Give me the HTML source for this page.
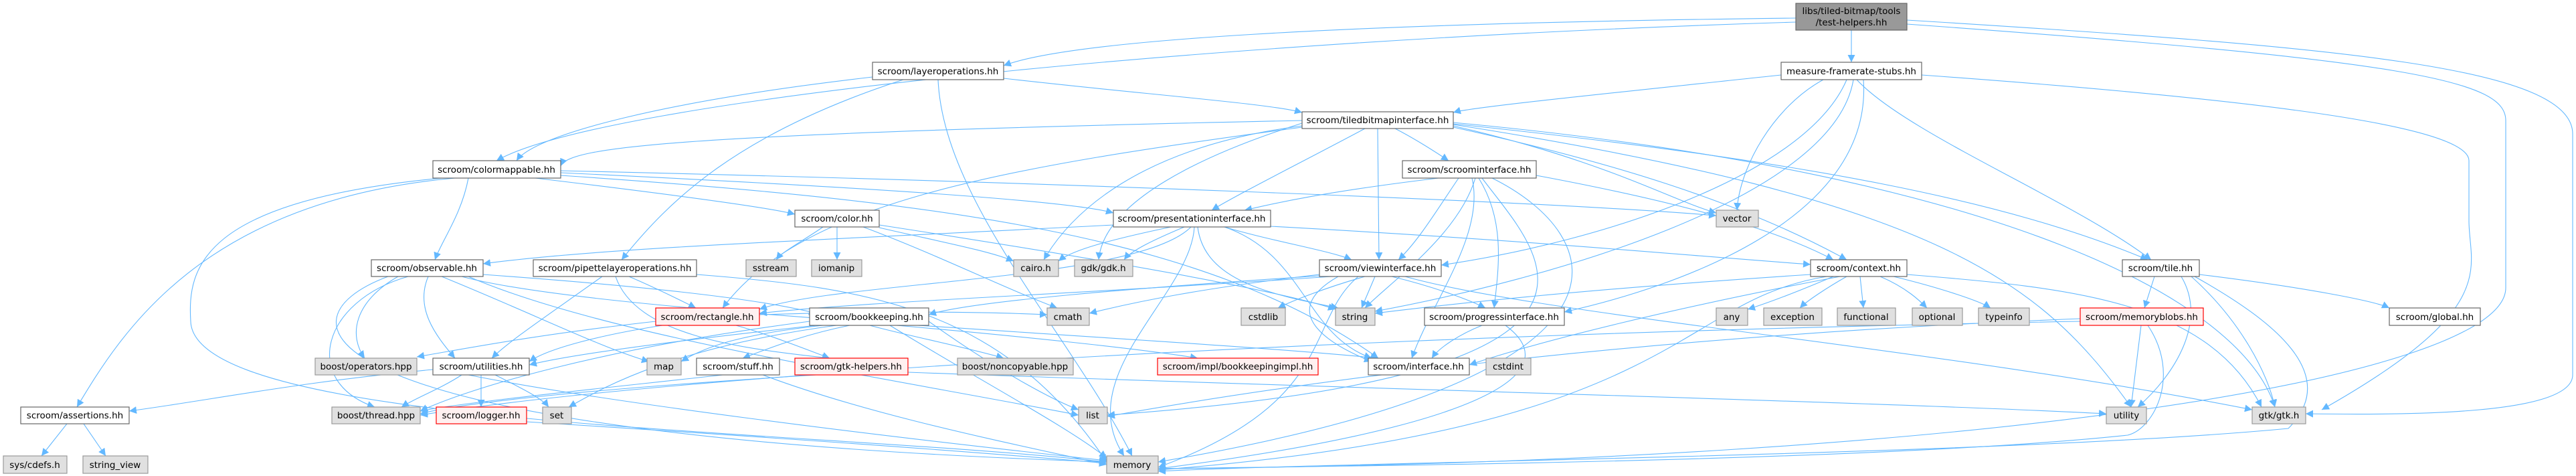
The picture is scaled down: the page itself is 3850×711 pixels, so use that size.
<!DOCTYPE html>
<html><head><meta charset="utf-8"><style>
html,body{margin:0;padding:0;background:#fff;}
svg{display:block;}
text{font-family:"DejaVu Sans","Liberation Sans",sans-serif;font-size:13.5px;fill:#000;}
.e{fill:none;stroke:#63b8ff;stroke-width:1.1;}
.n{fill:#fff;stroke:#666;stroke-width:1.2;}
.g{fill:#e0e0e0;stroke:#999;stroke-width:1.2;}
.r{fill:#fff0f0;stroke:#f00;stroke-width:1.2;}
</style></head><body>
<svg width="3850" height="711" viewBox="0 0 3850 711" xmlns="http://www.w3.org/2000/svg">
<defs><marker id="a" viewBox="0 0 10 10" refX="10" refY="5" markerWidth="11" markerHeight="11" markerUnits="userSpaceOnUse" orient="auto"><path d="M0,0 L10,5 L0,10 z" fill="#63b8ff"/></marker></defs>
<g class="e" marker-end="url(#a)">
<!-- test-helpers -->
<path d="M2684 27 C2000 35 1600 60 1500 98"/>
<path d="M2684 33 C1800 60 900 150 742 240"/>
<path d="M2767 45 L2767 93"/>
<path d="M2850 30 C3500 70 3845 100 3845 200 L3845 560 C3845 620 3600 620 3446 618"/>
<path d="M2850 36 C3600 90 3745 120 3745 180 L3745 430 C3745 560 3000 690 1731 700"/>
<!-- measure -->
<path d="M2662 112 C2400 140 2200 160 2172 168"/>
<path d="M2725 119 C2650 160 2600 250 2596 314"/>
<path d="M2760 119 C2700 260 2400 360 2154 396"/>
<path d="M2770 119 C2740 300 2300 420 2055 465"/>
<path d="M2775 119 C2850 200 3100 300 3215 388"/>
<path d="M2872 112 C3400 150 3690 190 3690 240 L3690 330 C3690 400 3740 460 3470 612"/>
<path d="M2785 119 C2800 330 2500 430 2338 466"/>
<!-- layeroperations -->
<path d="M1304 115 C1000 150 800 200 772 240"/>
<path d="M1350 119 C1100 200 1000 300 929 388"/>
<path d="M1500 117 C1700 140 1900 155 1946 168"/>
<path d="M1402 119 C1410 300 1600 500 1692 681"/>
<!-- tiledbitmapinterface -->
<path d="M2040 192 C1950 240 1850 290 1811 314"/>
<path d="M2059 192 L2061 388"/>
<path d="M2085 192 C2120 210 2150 230 2165 240"/>
<path d="M1946 188 C1700 220 1600 320 1560 388"/>
<path d="M1946 184 C1800 230 1650 300 1642 388"/>
<path d="M1946 190 C1500 250 1200 300 1080 460"/>
<path d="M2172 188 C2400 240 2500 300 2565 318"/>
<path d="M2172 185 C2700 240 3000 300 3210 388"/>
<path d="M2172 190 C2400 240 2600 300 2760 388"/>
<path d="M2172 186 C2900 300 3050 420 3185 608"/>
<path d="M2172 183 C3000 260 3350 450 3400 608"/>
<path d="M1946 180 C1000 200 850 220 838 248"/>
<!-- colormappable -->
<path d="M680 266 C300 300 180 500 115 608"/>
<path d="M700 266 C690 320 660 360 650 388"/>
<path d="M800 266 C1000 290 1150 310 1188 320"/>
<path d="M838 258 C1300 280 1600 300 1664 318"/>
<path d="M838 255 C1500 270 2300 300 2565 322"/>
<path d="M660 266 C300 300 280 400 285 480 C290 640 1200 640 1654 690"/>
<path d="M838 262 C1400 300 1800 350 2060 535"/>
<!-- scroominterface -->
<path d="M2150 266 C1950 290 1880 310 1860 314"/>
<path d="M2180 266 C2150 310 2120 360 2090 388"/>
<path d="M2210 266 C2250 330 2240 400 2233 460"/>
<path d="M2205 266 C2180 350 2080 420 2040 460"/>
<path d="M2200 266 C2220 350 2140 450 2110 535"/>
<path d="M2215 266 C2300 380 2500 560 1655 620"/>
<path d="M2230 266 C2400 350 2500 560 1731 690"/>
<path d="M2296 262 C2500 300 2650 340 2740 388"/>
<!-- color -->
<path d="M1230 339 C1200 360 1170 375 1160 388"/>
<path d="M1251 339 L1251 388"/>
<path d="M1314 340 C1400 360 1480 375 1515 390"/>
<path d="M1290 339 C1400 380 1500 430 1580 460"/>
<path d="M1314 336 C1600 380 1900 430 1996 462"/>
<!-- presentationinterface -->
<path d="M1750 339 C1650 360 1600 375 1582 390"/>
<path d="M1770 339 C1720 360 1690 375 1680 388"/>
<path d="M1830 339 C1900 360 1990 375 2020 388"/>
<path d="M1780 339 C1700 420 1250 420 1135 462"/>
<path d="M1664 336 C1200 360 900 370 722 394"/>
<path d="M1790 339 C1800 420 1900 440 2000 460"/>
<path d="M1785 339 C1780 440 1600 560 1680 681"/>
<path d="M1830 339 C1950 380 1950 500 2050 535"/>
<path d="M1899 338 C2300 360 2500 380 2706 395"/>
<!-- observable -->
<path d="M595 413 C530 450 520 500 545 535"/>
<path d="M610 413 C480 450 450 570 560 608"/>
<path d="M640 413 C620 460 650 500 680 535"/>
<path d="M722 410 C1000 430 1150 450 1220 468"/>
<path d="M660 413 C800 470 900 520 970 540"/>
<path d="M580 413 C400 480 450 650 1654 690"/>
<path d="M700 413 C900 500 1300 560 1612 620"/>
<path d="M690 413 C900 470 1700 500 2060 535"/>
<!-- pipettelayeroperations -->
<path d="M940 413 C980 430 1020 450 1040 460"/>
<path d="M900 413 C820 470 760 510 735 535"/>
<path d="M920 413 C950 500 1100 520 1240 535"/>
<path d="M1041 410 C1300 430 1500 460 1654 690"/>
<!-- viewinterface -->
<path d="M1990 413 C1600 440 1300 450 1135 468"/>
<path d="M2080 413 C2150 430 2200 450 2220 460"/>
<path d="M2040 413 C1980 430 1930 450 1910 460"/>
<path d="M2055 413 L2035 460"/>
<path d="M2000 413 C1900 470 2000 520 2050 540"/>
<path d="M1972 410 C1800 430 1700 450 1628 468"/>
<path d="M2100 413 C2300 470 2900 520 3366 612"/>
<path d="M2030 413 C1950 480 2000 600 1731 698"/>
<path d="M1972 412 C1700 430 1450 450 1388 470"/>
<!-- context -->
<path d="M2740 413 C2700 430 2650 450 2612 462"/>
<path d="M2760 413 C2730 430 2700 450 2690 460"/>
<path d="M2780 413 L2785 460"/>
<path d="M2810 413 C2850 430 2870 450 2880 460"/>
<path d="M2830 413 C2900 430 2960 450 2975 460"/>
<path d="M2706 410 C2400 430 2200 450 2055 468"/>
<path d="M2730 413 C2500 450 2520 640 1731 702"/>
<path d="M2750 413 C2500 460 2300 510 2196 545"/>
<path d="M2850 410 C3100 430 3300 450 3380 608"/>
<!-- tile -->
<path d="M3220 413 L3205 460"/>
<path d="M3287 410 C3450 430 3550 450 3571 460"/>
<path d="M3260 413 C3300 480 3250 560 3195 608"/>
<path d="M3275 413 C3350 480 3390 560 3400 608"/>
<path d="M3280 413 C3400 480 3500 560 3420 640 C3000 680 2000 690 1731 704"/>
<!-- rectangle -->
<path d="M1100 486 C1150 500 1200 520 1240 535"/>
<path d="M980 480 C800 500 700 520 623 533"/>
<path d="M1135 470 C1300 465 1450 465 1565 470"/>
<path d="M990 486 C900 500 820 520 791 540"/>
<!-- bookkeeping -->
<path d="M1270 486 C1200 500 1150 520 1110 535"/>
<path d="M1230 486 C1100 500 1050 520 1018 540"/>
<path d="M1300 486 C1350 500 1450 520 1500 535"/>
<path d="M1340 486 C1500 500 1700 520 1790 535"/>
<path d="M1330 486 C1450 560 1600 640 1654 684"/>
<path d="M1388 480 C1500 560 1580 600 1612 612"/>
<path d="M1250 486 C1000 520 900 580 850 608"/>
<path d="M1210 480 C900 520 700 580 628 614"/>
<path d="M1220 486 C1000 510 850 530 791 545"/>
<!-- progress -->
<path d="M2215 486 C2180 500 2150 520 2140 535"/>
<path d="M2250 486 C2350 560 2200 640 1731 700"/>
<!-- utilities -->
<path d="M719 560 L719 608"/>
<path d="M740 560 C780 580 810 595 820 608"/>
<path d="M647 552 C450 570 300 600 193 614"/>
<path d="M690 560 C660 580 620 595 600 608"/>
<path d="M700 560 C900 600 1300 650 1654 688"/>
<!-- stuff / gtk-helpers -->
<path d="M1080 560 C900 580 700 600 628 614"/>
<path d="M1140 560 C1300 620 1500 660 1654 694"/>
<path d="M1357 556 C2000 580 2800 600 3148 618"/>
<path d="M1220 560 C900 580 700 600 628 618"/>
<!-- memoryblobs -->
<path d="M3200 486 L3185 608"/>
<path d="M3210 486 C3260 560 3220 640 3180 650 C2800 690 2000 696 1731 700"/>
<path d="M3109 476 C2500 500 2000 560 1655 622"/>
<path d="M3109 480 C2000 500 1000 560 628 620"/>
<!-- assertions / logger -->
<path d="M100 633 L62 681"/>
<path d="M125 633 L158 681"/>
<path d="M787 630 C1100 650 1400 670 1654 692"/>
</g>
<!-- nodes -->
<g>
<rect class="n" x="2684" y="5" width="166" height="40" style="fill:#999;stroke:#666"/>
<text x="2767" y="21" text-anchor="middle">libs/tiled-bitmap/tools</text>
<text x="2767" y="38" text-anchor="middle">/test-helpers.hh</text>
<rect class="n" x="2662" y="93" width="210" height="26"/><text x="2767" y="111" text-anchor="middle">measure-framerate-stubs.hh</text>
<rect class="n" x="1304" y="93" width="196" height="26"/><text x="1402" y="111" text-anchor="middle">scroom/layeroperations.hh</text>
<rect class="n" x="1946" y="167" width="226" height="25"/><text x="2059" y="184" text-anchor="middle">scroom/tiledbitmapinterface.hh</text>
<rect class="n" x="647" y="240" width="191" height="26"/><text x="742" y="258" text-anchor="middle">scroom/colormappable.hh</text>
<rect class="n" x="2096" y="240" width="200" height="26"/><text x="2196" y="258" text-anchor="middle">scroom/scroominterface.hh</text>
<rect class="n" x="1188" y="314" width="126" height="25"/><text x="1251" y="331" text-anchor="middle">scroom/color.hh</text>
<rect class="n" x="1664" y="314" width="235" height="25"/><text x="1781" y="331" text-anchor="middle">scroom/presentationinterface.hh</text>
<rect class="g" x="2565" y="314" width="63" height="25"/><text x="2596" y="331" text-anchor="middle">vector</text>
<rect class="n" x="555" y="388" width="167" height="25"/><text x="638" y="405" text-anchor="middle">scroom/observable.hh</text>
<rect class="n" x="797" y="388" width="244" height="25"/><text x="919" y="405" text-anchor="middle">scroom/pipettelayeroperations.hh</text>
<rect class="g" x="1115" y="388" width="75" height="25"/><text x="1152" y="405" text-anchor="middle">sstream</text>
<rect class="g" x="1213" y="388" width="75" height="25"/><text x="1250" y="405" text-anchor="middle">iomanip</text>
<rect class="g" x="1515" y="388" width="67" height="25"/><text x="1548" y="405" text-anchor="middle">cairo.h</text>
<rect class="g" x="1606" y="388" width="87" height="25"/><text x="1649" y="405" text-anchor="middle">gdk/gdk.h</text>
<rect class="n" x="1972" y="388" width="182" height="25"/><text x="2063" y="405" text-anchor="middle">scroom/viewinterface.hh</text>
<rect class="n" x="2706" y="388" width="144" height="25"/><text x="2778" y="405" text-anchor="middle">scroom/context.hh</text>
<rect class="n" x="3172" y="388" width="115" height="25"/><text x="3229" y="405" text-anchor="middle">scroom/tile.hh</text>
<rect class="r" x="980" y="460" width="155" height="26"/><text x="1057" y="478" text-anchor="middle">scroom/rectangle.hh</text>
<rect class="n" x="1210" y="460" width="178" height="26"/><text x="1299" y="478" text-anchor="middle">scroom/bookkeeping.hh</text>
<rect class="g" x="1565" y="460" width="63" height="26"/><text x="1596" y="478" text-anchor="middle">cmath</text>
<rect class="g" x="1855" y="460" width="66" height="26"/><text x="1888" y="478" text-anchor="middle">cstdlib</text>
<rect class="g" x="1996" y="460" width="59" height="26"/><text x="2025" y="478" text-anchor="middle">string</text>
<rect class="n" x="2129" y="460" width="209" height="26"/><text x="2233" y="478" text-anchor="middle">scroom/progressinterface.hh</text>
<rect class="g" x="2565" y="460" width="47" height="26"/><text x="2588" y="478" text-anchor="middle">any</text>
<rect class="g" x="2636" y="460" width="87" height="26"/><text x="2679" y="478" text-anchor="middle">exception</text>
<rect class="g" x="2746" y="460" width="87" height="26"/><text x="2789" y="478" text-anchor="middle">functional</text>
<rect class="g" x="2858" y="460" width="75" height="26"/><text x="2895" y="478" text-anchor="middle">optional</text>
<rect class="g" x="2957" y="460" width="76" height="26"/><text x="2995" y="478" text-anchor="middle">typeinfo</text>
<rect class="r" x="3109" y="460" width="184" height="26"/><text x="3201" y="478" text-anchor="middle">scroom/memoryblobs.hh</text>
<rect class="n" x="3571" y="460" width="136" height="26"/><text x="3639" y="478" text-anchor="middle">scroom/global.hh</text>
<rect class="g" x="471" y="535" width="152" height="25"/><text x="547" y="552" text-anchor="middle">boost/operators.hpp</text>
<rect class="n" x="647" y="535" width="144" height="25"/><text x="719" y="552" text-anchor="middle">scroom/utilities.hh</text>
<rect class="g" x="967" y="535" width="51" height="25"/><text x="992" y="552" text-anchor="middle">map</text>
<rect class="n" x="1041" y="535" width="124" height="25"/><text x="1103" y="552" text-anchor="middle">scroom/stuff.hh</text>
<rect class="r" x="1188" y="535" width="169" height="25"/><text x="1272" y="552" text-anchor="middle">scroom/gtk-helpers.hh</text>
<rect class="g" x="1431" y="535" width="173" height="25"/><text x="1517" y="552" text-anchor="middle">boost/noncopyable.hpp</text>
<rect class="r" x="1730" y="535" width="240" height="25"/><text x="1850" y="552" text-anchor="middle">scroom/impl/bookkeepingimpl.hh</text>
<rect class="n" x="2045" y="535" width="151" height="25"/><text x="2120" y="552" text-anchor="middle">scroom/interface.hh</text>
<rect class="g" x="2221" y="535" width="67" height="25"/><text x="2254" y="552" text-anchor="middle">cstdint</text>
<rect class="n" x="31" y="608" width="162" height="25"/><text x="112" y="625" text-anchor="middle">scroom/assertions.hh</text>
<rect class="g" x="496" y="608" width="132" height="25"/><text x="562" y="625" text-anchor="middle">boost/thread.hpp</text>
<rect class="r" x="652" y="608" width="135" height="25"/><text x="719" y="625" text-anchor="middle">scroom/logger.hh</text>
<rect class="g" x="811" y="608" width="43" height="25"/><text x="832" y="625" text-anchor="middle">set</text>
<rect class="g" x="1612" y="608" width="43" height="25"/><text x="1633" y="625" text-anchor="middle">list</text>
<rect class="g" x="3148" y="608" width="60" height="25"/><text x="3178" y="625" text-anchor="middle">utility</text>
<rect class="g" x="3366" y="608" width="80" height="25"/><text x="3406" y="625" text-anchor="middle">gtk/gtk.h</text>
<rect class="g" x="5" y="681" width="95" height="26"/><text x="52" y="699" text-anchor="middle">sys/cdefs.h</text>
<rect class="g" x="124" y="681" width="97" height="26"/><text x="172" y="699" text-anchor="middle">string_view</text>
<rect class="g" x="1654" y="681" width="77" height="26"/><text x="1692" y="699" text-anchor="middle">memory</text>
</g>
</svg>
</body></html>
